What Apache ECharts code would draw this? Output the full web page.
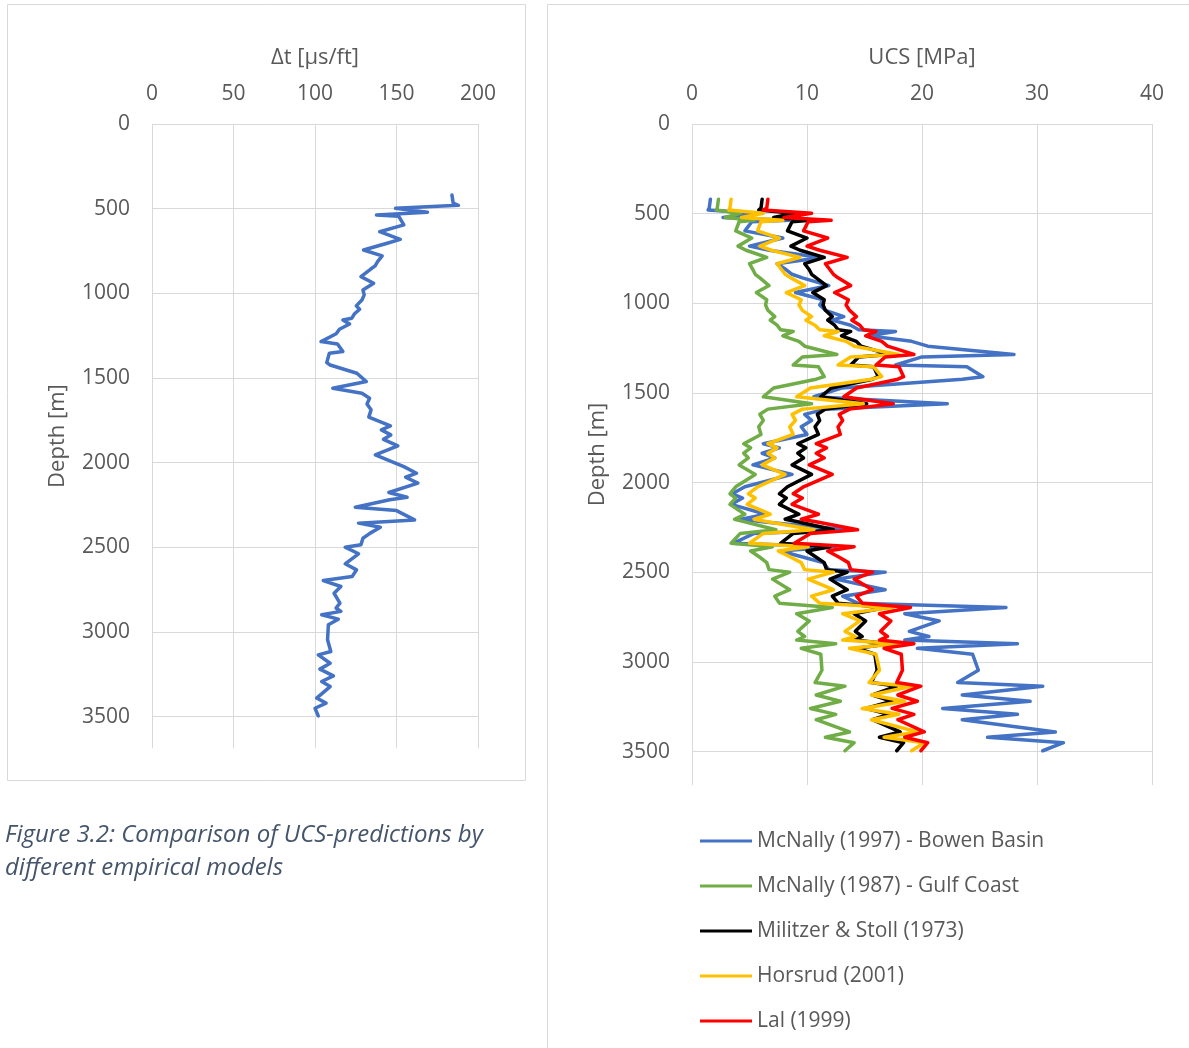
<!DOCTYPE html>
<html><head><meta charset="utf-8">
<script src="https://cdn.jsdelivr.net/npm/echarts@6/dist/echarts.min.js"></script>
<style>html,body{margin:0;padding:0;background:#fff}#c{width:1189px;height:1048px}</style>
</head><body><div id="c"></div>
<script>
// ---------- data ----------
const depthM = [419,468,480,498,521,537,545,596,636,681,704,744,779,813,838,858,901,940,980,1009,1039,1074,1094,1122,1147,1157,1181,1212,1239,1285,1299,1344,1354,1409,1423,1472,1521,1560,1590,1619,1653,1688,1731,1783,1806,1836,1862,1901,1954,2023,2062,2086,2121,2176,2204,2219,2263,2283,2338,2357,2381,2416,2446,2485,2499,2538,2597,2633,2672,2696,2731,2771,2829,2858,2878,2898,2924,2957,3046,3115,3135,3184,3219,3259,3292,3322,3390,3420,3450,3495];
const dtUsFt = [184,184.8,188,149.4,169,137.7,151.4,154.5,139.7,152.3,144.3,129.8,141.2,138.4,136.9,134,128.2,136,129.4,130.2,128.8,125.3,127.4,124.1,122.6,117.1,121.2,115,113,103.7,113.8,117.1,108.8,107.2,109.3,125.7,131.5,110.9,128.8,133.5,131.9,134.4,133,146.3,140.7,146.5,142,150.8,137,154.5,162.3,155.6,163.1,145.3,156.5,145.9,124.7,150,161.1,126.7,140.1,133.9,129.4,128.2,118.5,126.7,118.5,125.5,122.8,105.1,115.9,111.7,115.3,112.9,115.9,104.1,114.3,108.2,107.7,109.7,102,109.3,103,111.3,104.1,109.3,101,106.8,100,102];
const ucsBowen = [1.6,1.5,1.4,5.5,2.7,8.4,5.2,4.6,7.9,5.0, 6.7,11.2,7.4,8.2,8.7,9.6,11.9,9.0,11.4,11.1, 11.6,13.2,12.2,13.8,14.5,17.7,15.3,19.1,20.5,28.0, 20.0,17.7,23.9,25.3,23.5,13.0,10.6,22.2,11.6,9.8, 10.4,9.5,10.0,6.2,7.6,6.1,7.2,5.3,8.7,4.6, 3.5,4.4,3.4,6.4,4.3,6.3,13.5,5.4,3.6,12.5, 7.7,9.7,11.4,11.9,16.8,12.5,16.8,13.1,14.4,27.3, 18.5,21.5,18.9,20.6,18.5,28.3,19.6,24.4,24.9,23.1, 30.5,23.5,29.4,21.8,28.3,23.5,31.6,25.7,32.3,30.5];
const ucsGulf = [2.3,2.2,2.1,4.2,2.9,5.4,4.1,3.8,5.2,4.0, 4.7,6.5,5.0,5.3,5.5,5.9,6.7,5.6,6.5,6.4, 6.6,7.2,6.8,7.4,7.7,8.8,7.9,9.3,9.8,12.6, 9.6,8.8,11.0,11.5,10.8,7.1,6.2,10.4,6.6,5.9, 6.2,5.8,6.0,4.5,5.1,4.5,4.9,4.1,5.5,3.8, 3.3,3.8,3.3,4.6,3.7,4.6,7.3,4.2,3.4,7.0, 5.1,5.9,6.5,6.7,8.5,7.0,8.5,7.2,7.6,12.2, 9.1,10.2,9.2,9.8,9.1,12.5,9.5,11.2,11.3,10.7, 13.3,10.8,12.9,10.3,12.5,10.8,13.7,11.6,14.1,13.3];
const ucsMilitzer = [6.1,6.0,5.8,8.9,7.1,10.3,8.7,8.3,10.0,8.6, 9.4,11.5,9.8,10.2,10.4,10.8,11.7,10.5,11.5,11.4, 11.6,12.2,11.8,12.4,12.7,13.8,13.0,14.3,14.7,17.1, 14.5,13.8,15.8,16.2,15.7,12.1,11.2,15.2,11.6,10.9, 11.1,10.7,11.0,9.2,9.9,9.2,9.7,8.7,10.4,8.3, 7.6,8.2,7.6,9.3,8.1,9.3,12.3,8.8,7.7,12.0, 10.0,10.8,11.5,11.7,13.5,12.0,13.5,12.2,12.7,16.8, 14.1,15.1,14.2,14.8,14.1,17.1,14.4,15.9,16.1,15.6, 17.8,15.7,17.4,15.1,17.1,15.7,18.1,16.3,18.4,17.8];
const ucsHorsrud = [3.4,3.3,3.2,6.2,4.3,7.9,6.0,5.7,7.6,5.9, 6.9,9.4,7.4,7.8,8.1,8.6,9.8,8.2,9.5,9.3, 9.6,10.4,9.9,10.7,11.1,12.7,11.5,13.4,14.1,18.0, 13.8,12.7,15.8,16.5,15.6,10.3,9.1,14.9,9.6,8.7, 9.0,8.5,8.8,6.6,7.4,6.6,7.2,6.1,8.1,5.7, 4.9,5.5,4.8,6.8,5.4,6.7,10.6,6.2,5.0,10.1, 7.5,8.6,9.5,9.8,12.3,10.1,12.3,10.4,11.1,17.5, 13.1,14.6,13.3,14.2,13.1,18.0,13.7,16.0,16.3,15.4, 19.1,15.6,18.5,14.8,18.0,15.6,19.6,16.7,20.2,19.1];
const ucsLal = [6.6,6.5,6.2,10.4,8.0,12.1,10.1,9.7,11.8,10.0, 11.1,13.5,11.6,12.0,12.3,12.7,13.8,12.4,13.6,13.4, 13.7,14.3,13.9,14.6,14.9,16.0,15.1,16.5,17.0,19.3, 16.8,16.0,18.0,18.4,17.9,14.3,13.2,17.5,13.7,12.8, 13.1,12.7,12.9,10.8,11.7,10.8,11.5,10.2,12.2,9.7, 8.8,9.6,8.7,11.0,9.5,10.9,14.4,10.3,8.9,14.1, 11.8,12.8,13.6,13.8,15.7,14.1,15.7,14.3,14.8,19.0, 16.3,17.3,16.4,17.0,16.3,19.3,16.7,18.2,18.3,17.8, 19.9,17.9,19.6,17.4,19.3,17.9,20.2,18.5,20.5,19.9];
const ucsNames = ['McNally (1997) - Bowen Basin','McNally (1987) - Gulf Coast','Militzer & Stoll (1973)','Horsrud (2001)','Lal (1999)'];
const ucsValues = [ucsBowen, ucsGulf, ucsMilitzer, ucsHorsrud, ucsLal];
const ucsColors = ['#4472c4','#70ad47','#000000','#ffc000','#ff0000'];
const depthMax = 3686;
const depthStep = 500;

// ---------- chart ----------
const FONT = '"Open Sans", "Liberation Sans", sans-serif';
const TXT = '#595959';
const GRID = '#d9d9d9';
const chart = echarts.init(document.getElementById('c'), null, {renderer:'canvas'});

function xAx(gi, max, interval, name){
  return {gridIndex:gi, type:'value', position:'top', min:0, max:max, interval:interval,
    name:name, nameLocation:'middle', nameGap:55,
    nameTextStyle:{color:TXT, fontSize:22, fontFamily:FONT},
    axisLine:{show:false}, axisTick:{show:false},
    axisLabel:{color:TXT, fontSize:21, fontFamily:FONT, margin:19},
    splitLine:{show:true, lineStyle:{color:GRID, width:1}}};
}
function yAx(gi){
  return {gridIndex:gi, type:'value', inverse:true, min:0, max:depthMax, interval:depthStep,
    name:'Depth [m]', nameLocation:'middle', nameRotate:90, nameGap:83,
    nameTextStyle:{color:TXT, fontSize:22, fontFamily:FONT},
    axisLine:{show:false}, axisTick:{show:false},
    axisLabel:{color:TXT, fontSize:21, fontFamily:FONT, margin:22,
      formatter:v => (v % depthStep === 0 ? String(v) : '')},
    splitLine:{show:true, showMaxLine:false, lineStyle:{color:GRID, width:1}}};
}
const line = (name, gi, xs, color) => ({
  name:name, type:'line', xAxisIndex:gi, yAxisIndex:gi,
  data: depthM.map((d,i)=>[xs[i], d]),
  showSymbol:false, symbol:'none', smooth:false,
  lineStyle:{color:color, width:3.5, cap:'round', join:'round'},
  itemStyle:{color:color}, emphasis:{disabled:true}
});

const series = [line('Δt', 0, dtUsFt, '#4472c4')];
ucsValues.forEach((v,i)=>series.push(line(ucsNames[i], 1, v, ucsColors[i])));

chart.setOption({
  animation:false,
  backgroundColor:'#ffffff',
  textStyle:{fontFamily:FONT},
  grid:[
    {left:152, top:124, width:326, height:624.2},
    {left:692, top:124, width:460, height:661}
  ],
  xAxis:[xAx(0, 200, 50, 'Δt [μs/ft]'), xAx(1, 40, 10, 'UCS [MPa]')],
  yAxis:[yAx(0), yAx(1)],
  legend:{orient:'vertical', left:695, top:825, data:ucsNames, icon:'rect',
    itemWidth:52, itemHeight:3, itemGap:23,
    textStyle:{color:TXT, fontSize:21, fontFamily:FONT, lineHeight:22}},
  graphic:[
    {type:'rect', silent:true, z:-10, shape:{x:7.5, y:4.5, width:518, height:776},
     style:{fill:'none', stroke:GRID, lineWidth:1}},
    {type:'polyline', silent:true, z:-10, shape:{points:[[547.5,1048],[547.5,4.5],[1189,4.5]]},
     style:{fill:'none', stroke:GRID, lineWidth:1}},
    {type:'text', silent:true, left:5, top:819,
     style:{text:'Figure 3.2: Comparison of UCS-predictions by\ndifferent empirical models',
       font:'italic 24px "Open Sans"', fill:'#44546a', lineHeight:33}}
  ],
  series:series
});
</script></body></html>
